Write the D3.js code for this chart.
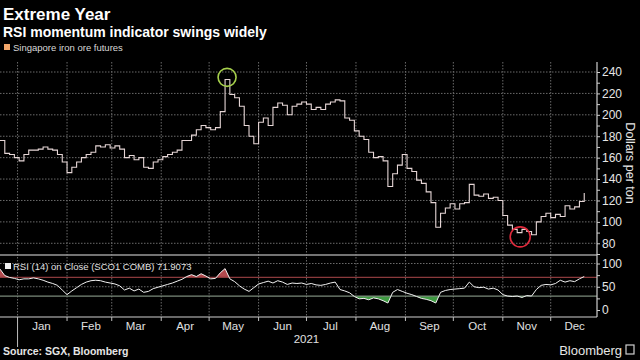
<!DOCTYPE html>
<html>
<head>
<meta charset="utf-8">
<script src="https://cdn.jsdelivr.net/npm/d3@7"></script>
<style>
  body { margin: 0; background: #000; }
  svg { display: block; font-family: "Liberation Sans", Arial, sans-serif; }
</style>
</head>
<body>
<div id="chart"></div>
<script>
// sampled every 3 calendar days starting Dec 21 2020
const startDate = new Date(2020, 11, 21);
const stepDays = 3;

const price = [176, 164, 163, 160, 157, 163, 167, 167, 168, 170, 168, 167, 163, 156, 146, 151, 156, 160, 163, 165,
  171, 170, 172, 169, 171, 168, 160, 162, 158, 160, 151, 150, 156, 158, 161, 163, 165, 167, 176, 176,
  181, 186, 190, 188, 186, 188, 203, 233, 219, 216, 208, 190, 180, 173, 193, 197, 190, 207, 211, 209,
  200, 208, 210, 212, 210, 205, 207, 205, 210, 212, 214, 213, 197, 195, 185, 180, 177, 165, 160, 161,
  157, 133, 145, 153, 163, 150, 147, 139, 136, 128, 118, 95, 108, 113, 117, 112, 117, 118, 135, 125,
  124, 126, 122, 123, 120, 106, 97, 93, 90, 93, 91, 88, 100, 105, 108, 104, 107, 105, 115, 112,
  114, 119, 127];

const rsi = [88, 74, 70, 68, 65, 67, 67, 69, 67, 64, 60, 57, 53, 43, 33, 41, 48, 55, 60, 63,
  64, 63, 60, 58, 56, 52, 43, 47, 41, 45, 38, 40, 46, 49, 52, 55, 58, 62, 66, 72,
  76, 72, 78, 73, 67, 68, 80, 89, 67, 61, 52, 45, 40, 48, 56, 59, 62, 58, 63, 60,
  55, 58, 57, 58, 55, 57, 54, 53, 55, 58, 60, 44, 41, 37, 29, 24, 25, 22, 26, 24,
  20, 15, 38, 44, 40, 36, 33, 29, 25, 23, 20, 15, 38, 42, 44, 45, 46, 47, 60, 50,
  48, 49, 45, 47, 43, 33, 30, 29, 30, 27, 31, 30, 44, 53, 55, 54, 57, 64, 60, 63,
  61, 67, 72];

const priceTicks = [80, 100, 120, 140, 160, 180, 200, 220, 240];
const rsiTicks = [0, 50, 100];
const monthLabels = ["Jan", "Feb", "Mar", "Apr", "May", "Jun", "Jul", "Aug", "Sep", "Oct", "Nov", "Dec"];
const rsiHigh = 70, rsiLow = 30;
const rsiLast = "71.9073";

const width = 640, height = 360;
const plotRight = 597;
const main = { top: 62, bottom: 254 };
const sub = { top: 255, bottom: 317 };

let dates = price.map((d, i) => d3.timeDay.offset(startDate, i * stepDays));
let series = dates.map((d, i) => ({ date: d, price: price[i], rsi: rsi[i] }));

let x = d3.scaleTime()
  .domain([startDate, new Date(2021, 11, 30)])
  .range([0, plotRight]);
let y = d3.scaleLinear().domain([70, 240]).range([main.bottom, 72]);
let yr = d3.scaleLinear().domain([0, 100]).range([310, 263.5]);

let svg = d3.select("#chart").append("svg")
  .attr("width", width)
  .attr("height", height);

svg.append("rect").attr("width", width).attr("height", height).attr("fill", "#000");

// titles
svg.append("text").attr("x", 3).attr("y", 20)
  .attr("fill", "#fff").attr("font-size", 17).attr("font-weight", "bold")
  .text("Extreme Year");
svg.append("text").attr("x", 3).attr("y", 37)
  .attr("fill", "#fff").attr("font-size", 14).attr("font-weight", "bold")
  .text("RSI momentum indicator swings widely");

// legend
svg.append("rect").attr("x", 4).attr("y", 44).attr("width", 6).attr("height", 6).attr("fill", "#f2a66a");
svg.append("text").attr("x", 13).attr("y", 51)
  .attr("fill", "#d8d8d8").attr("font-size", 9.5)
  .text("Singapore iron ore futures");

let months = d3.timeMonth.range(new Date(2021, 0, 1), new Date(2022, 0, 1));

// gridlines
let grid = svg.append("g").attr("stroke", "#6a6a6a").attr("stroke-dasharray", "1.5,1.5");
grid.selectAll("line.v").data(months).enter().append("line")
  .attr("x1", d => x(d)).attr("x2", d => x(d))
  .attr("y1", main.top).attr("y2", sub.bottom);
grid.selectAll("line.h").data(priceTicks).enter().append("line")
  .attr("x1", 0).attr("x2", plotRight)
  .attr("y1", d => y(d)).attr("y2", d => y(d));
grid.selectAll("line.r").data([50, 100]).enter().append("line")
  .attr("x1", 0).attr("x2", plotRight)
  .attr("y1", d => yr(d)).attr("y2", d => yr(d));

// panel separator
svg.append("line").attr("x1", 0).attr("x2", plotRight)
  .attr("y1", sub.top).attr("y2", sub.top)
  .attr("stroke", "#9a9a9a").attr("stroke-width", 1.5);

// price line
let line = d3.line()
  .x(d => x(d.date))
  .y(d => y(d.price))
  .curve(d3.curveStepAfter);
svg.append("path").datum(series)
  .attr("d", line)
  .attr("fill", "none")
  .attr("stroke", "#e6d6d6")
  .attr("stroke-width", 1.1);

// highlight circles
svg.append("circle")
  .attr("cx", x(d3.timeDay.offset(startDate, 47 * stepDays)) + 2)
  .attr("cy", y(235))
  .attr("r", 9).attr("fill", "none").attr("stroke", "#a6d04c").attr("stroke-width", 1.6);
svg.append("circle")
  .attr("cx", x(d3.timeDay.offset(startDate, 108 * stepDays)) + 3)
  .attr("cy", y(86))
  .attr("r", 10).attr("fill", "none").attr("stroke", "#e02a3c").attr("stroke-width", 1.6);

// RSI bands
svg.append("clipPath").attr("id", "above")
  .append("rect").attr("x", 0).attr("y", sub.top).attr("width", plotRight).attr("height", yr(rsiHigh) - sub.top);
svg.append("clipPath").attr("id", "below")
  .append("rect").attr("x", 0).attr("y", yr(rsiLow)).attr("width", plotRight).attr("height", sub.bottom - yr(rsiLow));

svg.append("path").datum(series)
  .attr("clip-path", "url(#above)")
  .attr("fill", "#b24a4e")
  .attr("d", d3.area().x(d => x(d.date)).y0(yr(rsiHigh)).y1(d => yr(d.rsi)));
svg.append("path").datum(series)
  .attr("clip-path", "url(#below)")
  .attr("fill", "#3f9a42")
  .attr("d", d3.area().x(d => x(d.date)).y0(yr(rsiLow)).y1(d => yr(d.rsi)));

svg.append("line").attr("x1", 0).attr("x2", plotRight)
  .attr("y1", yr(rsiHigh)).attr("y2", yr(rsiHigh))
  .attr("stroke", "#8a3a3c").attr("stroke-width", 1.2);
svg.append("line").attr("x1", 0).attr("x2", plotRight)
  .attr("y1", yr(rsiLow)).attr("y2", yr(rsiLow))
  .attr("stroke", "#7a8a7a").attr("stroke-width", 1.2);

svg.append("path").datum(series)
  .attr("d", d3.line().x(d => x(d.date)).y(d => yr(d.rsi)))
  .attr("fill", "none")
  .attr("stroke", "#f2f2f2")
  .attr("stroke-width", 1);

// RSI legend
svg.append("rect").attr("x", 5).attr("y", 263).attr("width", 6).attr("height", 6).attr("fill", "#f0f0f0");
svg.append("text").attr("x", 13).attr("y", 270)
  .attr("fill", "#e0e0e0").attr("font-size", 9.5)
  .text(`RSI (14)  on Close (SCO1 COMB) ${rsiLast}`);

// right axes
let axisPrice = svg.append("g")
  .attr("transform", `translate(${plotRight},0)`)
  .call(d3.axisRight(y).tickValues(d3.range(70, 250, 10)).tickSize(3).tickFormat(d => priceTicks.includes(d) ? d : ""));
let axisRsi = svg.append("g")
  .attr("transform", `translate(${plotRight},0)`)
  .call(d3.axisRight(yr).tickValues([0, 25, 50, 75, 100]).tickSize(3).tickFormat(d => rsiTicks.includes(d) ? d : ""));

[axisPrice, axisRsi].forEach(g => {
  g.select(".domain").remove();
  g.selectAll("line").attr("stroke", "#cfcfcf");
  g.selectAll("text").attr("fill", "#e6e6e6").attr("font-size", 12).attr("x", 5)
    .attr("font-family", "'Liberation Sans', Arial, sans-serif");
});
svg.append("line").attr("x1", plotRight).attr("x2", plotRight)
  .attr("y1", main.top).attr("y2", sub.bottom)
  .attr("stroke", "#cfcfcf").attr("stroke-width", 1.2);

svg.append("text")
  .attr("transform", `translate(626,163) rotate(90)`)
  .attr("text-anchor", "middle")
  .attr("fill", "#e6e6e6").attr("font-size", 12.5)
  .text("Dollars per ton");

// bottom axis
svg.append("line").attr("x1", 0).attr("x2", plotRight)
  .attr("y1", sub.bottom).attr("y2", sub.bottom)
  .attr("stroke", "#cfcfcf").attr("stroke-width", 1.2);
svg.selectAll("line.mtick").data(months).enter().append("line")
  .attr("x1", d => x(d)).attr("x2", d => x(d))
  .attr("y1", sub.bottom).attr("y2", (d, i) => i === 0 ? 347 : 321)
  .attr("stroke", "#bdbdbd");
svg.selectAll("text.month").data(months).enter().append("text")
  .attr("x", d => x(d3.timeDay.offset(d, 15)))
  .attr("y", 330)
  .attr("text-anchor", "middle")
  .attr("fill", "#e0e0e0").attr("font-size", 11.5)
  .text((d, i) => monthLabels[i]);
svg.append("text").attr("x", x(new Date(2021, 6, 1))).attr("y", 343)
  .attr("text-anchor", "middle")
  .attr("fill", "#e0e0e0").attr("font-size", 11.5)
  .text("2021");

// footer
svg.append("text").attr("x", 3).attr("y", 355)
  .attr("fill", "#e6e6e6").attr("font-size", 10.5).attr("font-weight", "bold")
  .text("Source: SGX, Bloomberg");
svg.append("text").attr("x", 622).attr("y", 355)
  .attr("text-anchor", "end")
  .attr("fill", "#e6e6e6").attr("font-size", 13)
  .text("Bloomberg");
svg.append("rect").attr("x", 626).attr("y", 345).attr("width", 8).attr("height", 9)
  .attr("fill", "none").attr("stroke", "#cfcfcf").attr("stroke-width", 1.2);
</script>
</body>
</html>
